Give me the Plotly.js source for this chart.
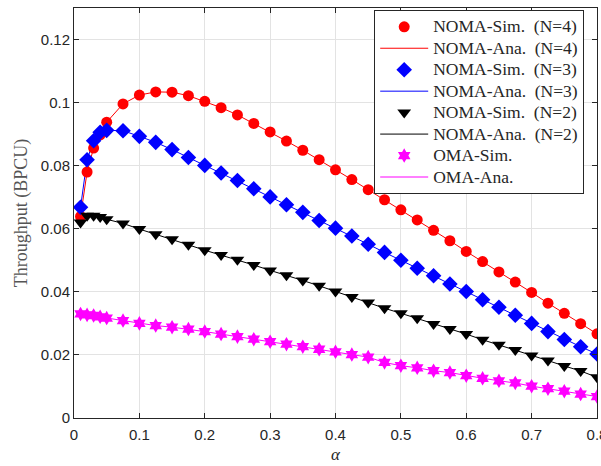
<!DOCTYPE html>
<html>
<head>
<meta charset="utf-8">
<script src="https://cdn.plot.ly/plotly-3.0.1.min.js"></script>
<style>
html,body{margin:0;padding:0;background:#fff;}
#chart{width:601px;height:466px;}
text.legendtext{font-size:17.5px !important;}
</style>
</head>
<body>
<div id="chart"></div>
<script>
const alpha = [0.01,0.02,0.03,0.04,0.05,0.075,0.1,0.125,0.15,0.175,0.2,0.225,0.25,0.275,0.3,0.325,0.35,0.375,0.4,0.425,0.45,0.475,0.5,0.525,0.55,0.575,0.6,0.625,0.65,0.675,0.7,0.725,0.75,0.775,0.8];
const noma4 = [0.0639,0.078,0.0856,0.0898,0.0938,0.0996,0.1024,0.1034,0.1033,0.1022,0.1004,0.0984,0.0961,0.0934,0.0907,0.0878,0.0849,0.0819,0.0787,0.0756,0.0724,0.0692,0.066,0.0628,0.0595,0.0562,0.0528,0.0496,0.0463,0.0431,0.0398,0.0364,0.0332,0.0299,0.0267];
const noma3 = [0.0668,0.0819,0.0879,0.0906,0.0912,0.0911,0.0893,0.0874,0.0851,0.0826,0.0801,0.0777,0.0753,0.0727,0.0701,0.0676,0.0652,0.0626,0.0602,0.0577,0.0551,0.0525,0.05,0.0475,0.0451,0.0425,0.0401,0.0375,0.0351,0.0326,0.03,0.0274,0.0249,0.0226,0.0203];
const noma2 = [0.062,0.0641,0.0641,0.0637,0.063,0.0617,0.0599,0.0583,0.0567,0.0549,0.0532,0.0517,0.0502,0.0485,0.0468,0.0453,0.0436,0.0419,0.0401,0.0384,0.0366,0.0348,0.0332,0.0316,0.0298,0.0282,0.0266,0.0248,0.0232,0.0216,0.0198,0.0182,0.0165,0.0149,0.0129];
const oma = [0.033,0.0327,0.0325,0.0321,0.0317,0.0309,0.03,0.0293,0.0288,0.0282,0.0274,0.0266,0.0258,0.025,0.0242,0.0234,0.0226,0.0218,0.021,0.0201,0.0193,0.0176,0.0166,0.0159,0.015,0.0144,0.0134,0.0126,0.0118,0.0111,0.0101,0.0093,0.0085,0.0076,0.0068];
const xTicks = [0,0.1,0.2,0.3,0.4,0.5,0.6,0.7,0.8];
const xTickText = ['0','0.1','0.2','0.3','0.4','0.5','0.6','0.7','0.8'];
const yTicks = [0,0.02,0.04,0.06,0.08,0.1,0.12];
const yTickText = ['0','0.02','0.04','0.06','0.08','0.1','0.12'];
const sp = '\u00a0\u00a0';
const names = ['NOMA-Sim.'+sp+'(N=4)','NOMA-Ana.'+sp+'(N=4)','NOMA-Sim.'+sp+'(N=3)','NOMA-Ana.'+sp+'(N=3)','NOMA-Sim.'+sp+'(N=2)','NOMA-Ana.'+sp+'(N=2)','OMA-Sim.','OMA-Ana.'];

function sim(y, name, color, symbol, size) {
  return {x: alpha, y: y, name: name, type: 'scatter', mode: 'markers',
    marker: {color: color, symbol: symbol, size: size, line: {width: 0}}};
}
function ana(y, name, color) {
  return {x: alpha, y: y, name: name, type: 'scatter', mode: 'lines',
    line: {color: color, width: 1}};
}
const data = [
  ana(noma4, names[1], '#ff0000'),
  ana(noma3, names[3], '#0000ff'),
  ana(noma2, names[5], '#000000'),
  ana(oma, names[7], '#ff00ff'),
  sim(noma4, names[0], '#ff0000', 'circle', 11),
  sim(noma3, names[2], '#0000ff', 'diamond', 12),
  sim(noma2, names[4], '#000000', 'triangle-down', 12),
  sim(oma, names[6], '#ff00ff', 'hexagram', 11)
];
const order = [4,0,5,1,6,2,7,3];
order.forEach((idx, k) => { data[idx].legendrank = k + 1; });

const serif = 'Liberation Serif, DejaVu Serif, serif';
const layout = {
  width: 601, height: 466,
  margin: {l: 74, r: 4, t: 8, b: 48},
  paper_bgcolor: '#ffffff', plot_bgcolor: '#ffffff',
  showlegend: true,
  font: {family: 'Liberation Sans, Arial, sans-serif', color: '#262626', size: 15},
  xaxis: {
    range: [0, 0.8], tickvals: xTicks, ticktext: xTickText,
    showgrid: true, gridcolor: '#e3e3e3', gridwidth: 1,
    zeroline: false, showline: true, linecolor: '#262626', linewidth: 1,
    mirror: 'ticks', ticks: 'inside', ticklen: 5, tickcolor: '#262626',
    tickfont: {size: 15, color: '#262626'}, ticklabeloverflow: 'allow', ticklabelstandoff: 3,
    title: {text: 'α', font: {family: serif, size: 17, color: '#262626', style: 'italic'}, standoff: 6}
  },
  yaxis: {
    range: [0, 0.13], tickvals: yTicks, ticktext: yTickText,
    showgrid: true, gridcolor: '#e3e3e3', gridwidth: 1,
    zeroline: false, showline: true, linecolor: '#262626', linewidth: 1,
    mirror: 'ticks', ticks: 'inside', ticklen: 5, tickcolor: '#262626',
    tickfont: {size: 15, color: '#262626'},
    title: {text: 'Throughput (BPCU)', font: {family: serif, size: 18, color: '#555555'}, standoff: 8}
  },
  legend: {
    x: 0.574, y: 0.995, xanchor: 'left', yanchor: 'top',
    bgcolor: '#ffffff', bordercolor: '#262626', borderwidth: 1,
    font: {family: serif, size: 14.2, color: '#262626'},
    itemwidth: 48, tracegroupgap: 0, traceorder: 'normal'
  }
};
Plotly.newPlot('chart', data, layout, {displayModeBar: false, staticPlot: true});
</script>
</body>
</html>
